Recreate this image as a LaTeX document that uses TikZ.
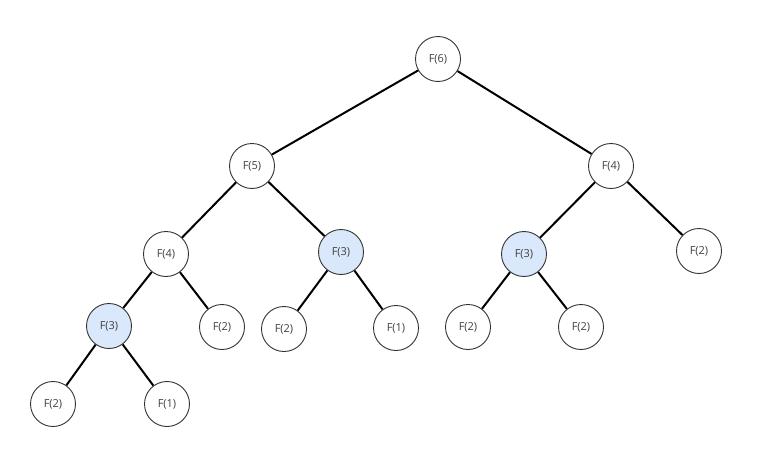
\documentclass[tikz,border=0pt]{standalone}
\usepackage{fontspec}
\setmainfont{Open Sans}
\definecolor{memoblue}{HTML}{DAE8FC}

\begin{document}
\begin{tikzpicture}[x=1pt,y=-1pt,
		call/.style={circle,draw=black!80,line width=0.9pt,fill=white,minimum size=45pt,inner sep=0pt,text=black!75,font=\fontsize{11}{13}\selectfont},
		memo/.style={call,fill=memoblue}]
	\useasboundingbox (0,0) rectangle (774,455);
	\node[call] (f6) at (438,59) {F(6)};
	\node[call] (f5) at (252,166) {F(5)};
	\node[call] (f4r) at (611,166) {F(4)};
	\node[call] (f4l) at (166,254) {F(4)};
	\node[memo] (f3m) at (341,252) {F(3)};
	\node[memo] (f3r) at (524,254) {F(3)};
	\node[call] (f2rr) at (699,251) {F(2)};
	\node[memo] (f3l) at (109,326) {F(3)};
	\node[call] (f2a) at (222,327) {F(2)};
	\node[call] (f2b) at (284,329) {F(2)};
	\node[call] (f1a) at (396,328) {F(1)};
	\node[call] (f2c) at (468,327) {F(2)};
	\node[call] (f2d) at (581,327) {F(2)};
	\node[call] (f2e) at (53,404) {F(2)};
	\node[call] (f1b) at (167,404) {F(1)};
	\begin{scope}[line width=2pt]
		\draw (f6) -- (f5);
		\draw (f6) -- (f4r);
		\draw (f5) -- (f4l);
		\draw (f5) -- (f3m);
		\draw (f4r) -- (f3r);
		\draw (f4r) -- (f2rr);
		\draw (f4l) -- (f3l);
		\draw (f4l) -- (f2a);
		\draw (f3m) -- (f2b);
		\draw (f3m) -- (f1a);
		\draw (f3r) -- (f2c);
		\draw (f3r) -- (f2d);
		\draw (f3l) -- (f2e);
		\draw (f3l) -- (f1b);
	\end{scope}
\end{tikzpicture}
\end{document}
